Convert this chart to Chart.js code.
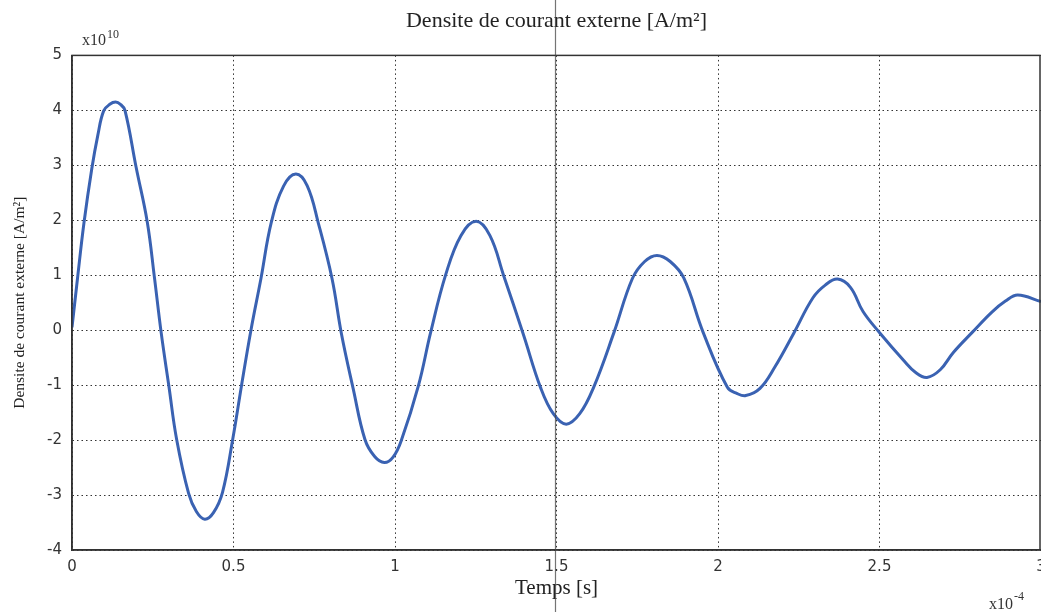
<!DOCTYPE html>
<html>
<head>
<meta charset="utf-8">
<script src="https://cdn.jsdelivr.net/npm/chart.js@4.4.0/dist/chart.umd.min.js"></script>
<style>
  html, body { margin: 0; padding: 0; background: #fff; }
  #wrap { width: 1041px; height: 612px; }
</style>
</head>
<body>
<div id="wrap"><canvas id="grafica"></canvas></div>
<script>
// temps (x10^-4 s) et densite (x10^10 A/m2)
var temps = [0, 0.017, 0.037, 0.061, 0.080, 0.098, 0.117, 0.135, 0.150, 0.164, 0.199, 0.233, 0.255, 0.276, 0.300, 0.324,
  0.361, 0.385, 0.411, 0.438, 0.466, 0.498, 0.525, 0.554, 0.585, 0.617, 0.655, 0.693, 0.728, 0.763,
  0.805, 0.834, 0.870, 0.907, 0.937, 0.967, 0.994, 1.020, 1.073, 1.110, 1.157, 1.204, 1.251, 1.294,
  1.336, 1.397, 1.451, 1.490, 1.530, 1.572, 1.615, 1.678, 1.735, 1.773, 1.811, 1.852, 1.894, 1.954,
  2.029, 2.058, 2.086, 2.130, 2.176, 2.235, 2.294, 2.332, 2.370, 2.410, 2.449, 2.501, 2.575, 2.612,
  2.647, 2.688, 2.728, 2.787, 2.848, 2.890, 2.928, 3.0];
var densite = [0.05, 0.94, 1.95, 2.93, 3.55, 3.99, 4.11, 4.15, 4.11, 4.0, 2.95, 1.97, 0.97, -0.04, -1.02, -1.99,
  -2.97, -3.30, -3.44, -3.32, -2.95, -1.97, -1.0, 0, 0.94, 1.96, 2.62, 2.84, 2.63, 1.94,
  0.94, -0.06, -1.05, -1.99, -2.30, -2.41, -2.31, -2.0, -1.0, -0.05, 1.01, 1.72, 1.98, 1.72,
  1.0, -0.07, -1.05, -1.52, -1.71, -1.52, -1.04, -0.04, 0.94, 1.25, 1.36, 1.25, 0.95, -0.04,
  -1.04, -1.15, -1.19, -1.06, -0.67, -0.05, 0.59, 0.82, 0.93, 0.78, 0.34, -0.05, -0.55, -0.77,
  -0.86, -0.72, -0.41, -0.04, 0.33, 0.53, 0.64, 0.52];
var ticksX = [0, 0.5, 1, 1.5, 2, 2.5, 3];
var ticksY = [-4, -3, -2, -1, 0, 1, 2, 3, 4, 5];

var puntos = [];
for (var i = 0; i < temps.length; i++) {
  puntos.push({x: temps[i], y: densite[i]});
}

// cadre, exposants et trait du scan
var extras = {
  id: 'extras',
  afterDraw: function(chart) {
    var ctx = chart.ctx;
    var a = chart.chartArea;
    var xs = chart.scales.x;
    ctx.save();
    ctx.setLineDash([]);
    ctx.strokeStyle = '#333';
    ctx.lineWidth = 1.5;
    ctx.strokeRect(a.left, a.top, a.right - a.left - 1, a.bottom - a.top);

    var xl = xs.getPixelForValue(1.5) - 1;
    ctx.strokeStyle = 'rgba(70,70,70,0.75)';
    ctx.lineWidth = 1.2;
    ctx.beginPath();
    ctx.moveTo(xl, 0);
    ctx.lineTo(xl, chart.height);
    ctx.stroke();

    ctx.fillStyle = '#333';
    ctx.textBaseline = 'alphabetic';
    ctx.textAlign = 'left';
    ctx.font = '16px "Liberation Serif"';
    ctx.fillText('x10', a.left + 10, a.top - 10);
    ctx.font = '12px "Liberation Serif"';
    ctx.fillText('10', a.left + 35, a.top - 17);
    ctx.font = '16px "Liberation Serif"';
    ctx.fillText('x10', a.right - 52, chart.height - 3);
    ctx.font = '12px "Liberation Serif"';
    ctx.fillText('-4', a.right - 27, chart.height - 12);
    ctx.restore();
  }
};

var chartDiv = document.getElementById('grafica');
var myChart = new Chart(chartDiv, {
  type: 'line',
  data: {
    datasets: [{
      data: puntos,
      borderColor: '#3a62b2',
      borderWidth: 3,
      pointRadius: 0,
      fill: false,
      tension: 0.4
    }]
  },
  options: {
    responsive: true,
    maintainAspectRatio: false,
    animation: false,
    layout: { padding: 0 },
    plugins: {
      legend: { display: false },
      tooltip: { enabled: false },
      title: {
        display: true,
        fullSize: false,
        text: 'Densite de courant externe [A/m\u00B2]',
        color: '#222',
        font: { family: 'Liberation Serif', size: 22, weight: 'normal' },
        padding: { top: 8, bottom: 21 }
      }
    },
    scales: {
      x: {
        type: 'linear',
        min: 0,
        max: 3,
        afterBuildTicks: function(scale) {
          scale.ticks = ticksX.map(function(v) { return {value: v}; });
        },
        afterFit: function(scale) {
          scale.height = 62;
          scale.paddingRight = 0;
          scale.paddingLeft = 0;
        },
        grid: { color: '#333', drawTicks: false },
        border: { display: true, color: '#333', width: 1.5, dash: [1.5, 3] },
        ticks: {
          color: '#333',
          padding: 8,
          maxRotation: 0,
          font: { family: 'DejaVu Sans', size: 15 },
          callback: function(v) { return String(v); }
        },
        title: {
          display: true,
          text: 'Temps [s]',
          color: '#222',
          font: { family: 'Liberation Serif', size: 21 },
          padding: { top: 0, bottom: 11 }
        }
      },
      y: {
        min: -4,
        max: 5,
        afterBuildTicks: function(scale) {
          scale.ticks = ticksY.map(function(v) { return {value: v}; });
        },
        afterFit: function(scale) {
          scale.width = 72;
        },
        grid: { color: '#333', drawTicks: false },
        border: { display: true, color: '#333', width: 1.5, dash: [1.5, 3] },
        ticks: {
          color: '#333',
          padding: 10,
          font: { family: 'DejaVu Sans', size: 15 },
          callback: function(v) { return String(v); }
        },
        title: {
          display: true,
          text: 'Densite de courant externe [A/m\u00B2]',
          color: '#222',
          font: { family: 'Liberation Serif', size: 15.5 },
          padding: { top: 11, bottom: 0 }
        }
      }
    }
  },
  plugins: [extras]
});
</script>
</body>
</html>
